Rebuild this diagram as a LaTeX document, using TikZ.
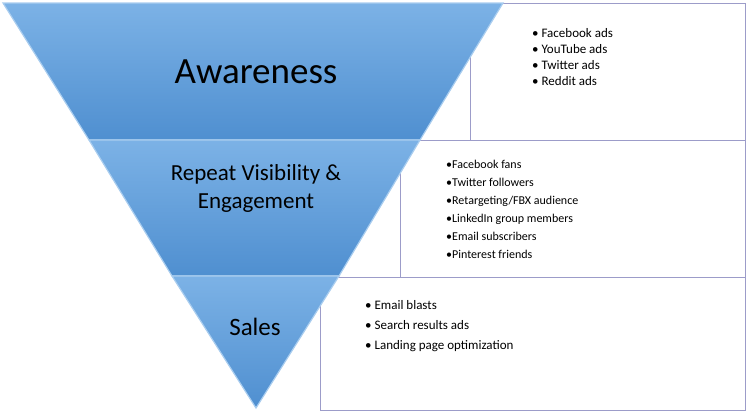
\documentclass[tikz,border=0pt]{standalone}
\usepackage{fontspec}
\setmainfont{Carlito}
\begin{document}
\begin{tikzpicture}[x=1pt,y=-1pt,
  seg/.style={draw=white!60!blue!40!cyan, line width=1.2pt, top color=blue!30!cyan!35!white!75!black, bottom color=blue!40!cyan!55!black!85, shading angle=0},
  box/.style={draw=gray!70!blue!60, line width=0.8pt, fill=white},
  lst/.style={anchor=north west, align=left, font=\fontsize{13}{16}\selectfont, inner sep=0pt}]
\useasboundingbox (0,0) rectangle (750,416);
\definecolor{fa}{HTML}{7CB2E6}\definecolor{fb}{HTML}{4F8FD0}\definecolor{ed}{HTML}{A9CDEF}
\tikzset{seg/.style={draw=ed, line width=1.2pt, top color=fa, bottom color=fb}}
\draw[box] (470,3) rectangle (745,140);
\draw[box] (400,140) rectangle (745,277);
\draw[box] (320,277) rectangle (745,410);
\path[seg] (3,3) -- (503,3) -- (420,140) -- (89,140) -- cycle;
\path[seg] (89,140) -- (420,140) -- (339,276) -- (172,276) -- cycle;
\path[seg] (172,276) -- (339,276) -- (256,408) -- cycle;
\node[font=\fontsize{37}{40}\selectfont] (a) at (256,72) {Awareness};
\node[font=\fontsize{23}{28}\selectfont, align=center] (r) at (256,188) {Repeat Visibility \&\\Engagement};
\node[font=\fontsize{25}{28}\selectfont] (s) at (255,327) {Sales};
\node[lst] (l1) at (532,28) {• Facebook ads\\• YouTube ads\\• Twitter ads\\• Reddit ads};
\node[lst, font=\fontsize{12}{18}\selectfont] (l2) at (446,160) {•Facebook fans\\•Twitter followers\\•Retargeting/FBX audience\\•LinkedIn group members\\•Email subscribers\\•Pinterest friends};
\node[lst, font=\fontsize{13}{20}\selectfont] (l3) at (365,300) {• Email blasts\\• Search results ads\\• Landing page optimization};
\end{tikzpicture}
\end{document}
